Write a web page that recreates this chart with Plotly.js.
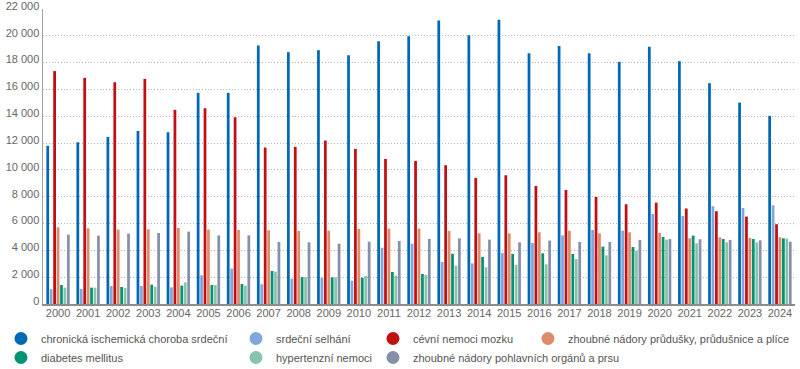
<!DOCTYPE html>
<html>
<head>
<meta charset="utf-8">
<script src="https://cdn.plot.ly/plotly-3.0.1.min.js"></script>
<style>html,body{margin:0;padding:0;background:#fff}#chart{width:800px;height:369px}</style>
</head>
<body>
<div id="chart"></div>
<script>
var years = ['2000','2001','2002','2003','2004','2005','2006','2007','2008','2009','2010','2011','2012','2013','2014','2015','2016','2017','2018','2019','2020','2021','2022','2023','2024'];
var seriesNames = ['chronická ischemická choroba srdeční','srdeční selhání','cévní nemoci mozku','zhoubné nádory průdušky, průdušnice a plíce','diabetes mellitus','hypertenzní nemoci','zhoubné nádory pohlavních orgánů a prsu'];
var chronicka = [11800,12060,12460,12910,12810,15750,15750,19280,18780,18930,18550,19600,19970,21140,20050,21190,18700,19250,18700,18060,19180,18110,16470,15020,14030];
var srdecni = [1100,1120,1340,1340,1240,2140,2640,1470,1890,1960,1740,4200,4500,3130,3030,3800,4550,5120,5520,5470,6720,6570,7290,7160,7360];
var cevni = [17370,16870,16540,16790,14480,14600,13930,11670,11720,12190,11570,10820,10670,10350,9400,9600,8800,8500,7990,7440,7560,7120,6920,6520,5950];
var plice = [5720,5650,5550,5570,5670,5550,5520,5500,5450,5470,5600,5620,5620,5450,5270,5270,5350,5470,5270,5350,5300,4900,4980,4930,4980];
var diabetes = [1420,1220,1270,1440,1370,1420,1490,2460,2010,1990,1960,2390,2240,3750,3510,3730,3780,3730,4280,4250,5000,5100,4850,4850,4900];
var hypertenzni = [1220,1220,1190,1290,1620,1420,1370,2410,2000,1990,2090,2120,2160,2860,2740,2930,2960,3360,3630,3960,4800,4530,4600,4600,4880];
var pohlavni = [5170,5100,5250,5300,5400,5120,5120,4630,4600,4500,4650,4700,4850,4900,4800,4600,4730,4630,4630,4780,4850,4830,4780,4750,4650];

var values = [chronicka, srdecni, cevni, plice, diabetes, hypertenzni, pohlavni];
var colors = ['#0068b4','#7fa7dc','#c10f12','#e08a6c','#009473','#86c4ae','#8591a9'];
var legendFor = ['legend','legend2','legend3','legend4','legend','legend2','legend3'];

var traces = [];
for (var i = 0; i < values.length; i++) {
  traces.push({
    type: 'bar', x: years, y: values[i], name: seriesNames[i],
    marker: {color: colors[i]}, showlegend: false, hoverinfo: 'x+y+name'
  });
}
for (var j = 0; j < values.length; j++) {
  traces.push({
    type: 'scatter', mode: 'markers', x: [null], y: [null], name: seriesNames[j],
    marker: {color: colors[j], size: 13, symbol: 'circle'}, legend: legendFor[j], showlegend: true
  });
}

var FONT = 'Liberation Sans, Arial, sans-serif';
function legendAt(x) {
  return {x: x, xanchor: 'left', y: -0.0678, yanchor: 'top', orientation: 'v',
    bgcolor: 'rgba(0,0,0,0)', borderwidth: 0, itemwidth: 30,
    font: {family: FONT, size: 11, color: '#555'},
    tracegroupgap: 0};
}

var layout = {
  width: 800, height: 369,
  margin: {l: 43, r: 5, t: 9, b: 65, autoexpand: false},
  paper_bgcolor: '#fff', plot_bgcolor: '#fff',
  separators: ', ',
  barmode: 'group', bargap: 0.2, bargroupgap: 0.2,
  font: {family: FONT, color: '#666'},
  xaxis: {type: 'category', range: [-0.5, 24.5], showline: true, linecolor: '#8c8c8c', linewidth: 2,
    ticks: '', showgrid: false, tickangle: 0, ticklabelstandoff: -2, tickfont: {size: 11, color: '#666'}, fixedrange: true},
  yaxis: {range: [0, 22000], dtick: 2000, tick0: 0, tickformat: ',d', showline: true, linecolor: '#a0a0a0', linewidth: 1.5,
    showgrid: true, gridcolor: '#b5b5b5', gridwidth: 1, griddash: '1px,2px', zeroline: false, ticks: '',
    ticklabelshift: -3, ticklabeloverflow: 'allow', tickfont: {size: 11, color: '#666'}, fixedrange: true},
  legend: legendAt(-0.0559),
  legend2: legendAt(0.2566),
  legend3: legendAt(0.4388),
  legend4: legendAt(0.6449)
};

Plotly.newPlot('chart', traces, layout, {displayModeBar: false, staticPlot: true});
</script>
</body>
</html>
